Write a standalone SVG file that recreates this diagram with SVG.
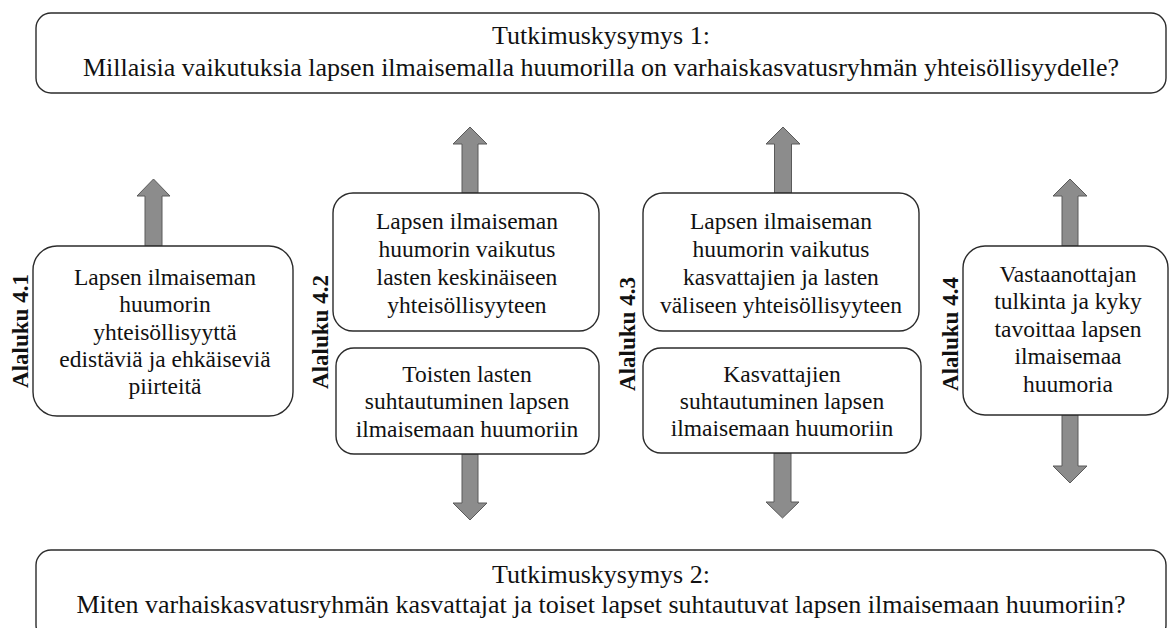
<svg xmlns="http://www.w3.org/2000/svg" width="1170" height="628" viewBox="0 0 1170 628">
<style>
.box{fill:#fff;stroke:#2b2b2b;stroke-width:1.4}
text{font-family:"Liberation Serif","Times New Roman",serif;fill:#111;text-anchor:middle}
.q{font-size:26px}
.t{font-size:23.5px}
.lab{font-size:23px;font-weight:bold}
.arr{fill:#8c8c8c;stroke:#5a5a5a;stroke-width:1}
</style>
<rect width="1170" height="628" fill="#fff"/>
<g id="connectors">
<path class="arr" d="M145,246 V196 H137 L153.5,179 L170,196 H162 V246 Z"/>
<path class="arr" d="M462,193 V144 H453 L470,127 L487,144 H478 V193 Z"/>
<path class="arr" d="M462,454 V503 H453 L470,520 L487,503 H478 V454 Z"/>
<path class="arr" d="M774.5,193 V144 H766 L783,127 L800,144 H791.5 V193 Z"/>
<path class="arr" d="M774,453 V502 H766 L782.5,518 L799,502 H791 V453 Z"/>
<path class="arr" d="M1062,246 V196 H1053 L1070,179 L1087,196 H1078 V246 Z"/>
<path class="arr" d="M1062,415 V466 H1053 L1070,483 L1087,466 H1078 V415 Z"/>
</g>
<g id="rq1">
<rect class="box" x="36" y="13" width="1130" height="80" rx="15"/>
<text class="q" x="601" y="44">Tutkimuskysymys 1:</text>
<text class="q" x="601" y="76">Millaisia vaikutuksia lapsen ilmaisemalla huumorilla on varhaiskasvatusryhmän yhteisöllisyydelle?</text>
</g>
<g id="rq2">
<rect class="box" x="36" y="550" width="1130" height="90" rx="15"/>
<text class="q" x="601" y="583">Tutkimuskysymys 2:</text>
<text class="q" x="601" y="613">Miten varhaiskasvatusryhmän kasvattajat ja toiset lapset suhtautuvat lapsen ilmaisemaan huumoriin?</text>
</g>
<g id="n41">
<rect class="box" x="33" y="246" width="260" height="170" rx="24"/>
<text class="t" x="165" y="285">Lapsen ilmaiseman</text>
<text class="t" x="165" y="312">huumorin</text>
<text class="t" x="165" y="340">yhteisöllisyyttä</text>
<text class="t" x="165" y="367">edistäviä ja ehkäiseviä</text>
<text class="t" x="165" y="394">piirteitä</text>
<text class="lab" transform="translate(28,331) rotate(-90)">Alaluku 4.1</text>
</g>
<g id="n42a">
<rect class="box" x="333" y="193" width="266" height="138" rx="20"/>
<text class="t" x="467" y="229">Lapsen ilmaiseman</text>
<text class="t" x="467" y="257">huumorin vaikutus</text>
<text class="t" x="467" y="285">lasten keskinäiseen</text>
<text class="t" x="467" y="313">yhteisöllisyyteen</text>
</g>
<g id="n42b">
<rect class="box" x="336" y="348" width="263" height="106" rx="18"/>
<text class="t" x="467" y="382">Toisten lasten</text>
<text class="t" x="467" y="409">suhtautuminen lapsen</text>
<text class="t" x="467" y="437">ilmaisemaan huumoriin</text>
<text class="lab" transform="translate(328,332) rotate(-90)">Alaluku 4.2</text>
</g>
<g id="n43a">
<rect class="box" x="643" y="193" width="276" height="138" rx="20"/>
<text class="t" x="781" y="229">Lapsen ilmaiseman</text>
<text class="t" x="781" y="257">huumorin vaikutus</text>
<text class="t" x="781" y="285">kasvattajien ja lasten</text>
<text class="t" x="781" y="313">väliseen yhteisöllisyyteen</text>
</g>
<g id="n43b">
<rect class="box" x="643" y="348" width="278" height="105" rx="18"/>
<text class="t" x="782" y="382">Kasvattajien</text>
<text class="t" x="782" y="409">suhtautuminen lapsen</text>
<text class="t" x="782" y="436">ilmaisemaan huumoriin</text>
<text class="lab" transform="translate(635,334) rotate(-90)">Alaluku 4.3</text>
</g>
<g id="n44">
<rect class="box" x="963" y="246" width="205" height="169" rx="22"/>
<text class="t" x="1068" y="282">Vastaanottajan</text>
<text class="t" x="1068" y="309">tulkinta ja kyky</text>
<text class="t" x="1068" y="337">tavoittaa lapsen</text>
<text class="t" x="1068" y="364">ilmaisemaa</text>
<text class="t" x="1068" y="392">huumoria</text>
<text class="lab" transform="translate(958,334) rotate(-90)">Alaluku 4.4</text>
</g>
</svg>
